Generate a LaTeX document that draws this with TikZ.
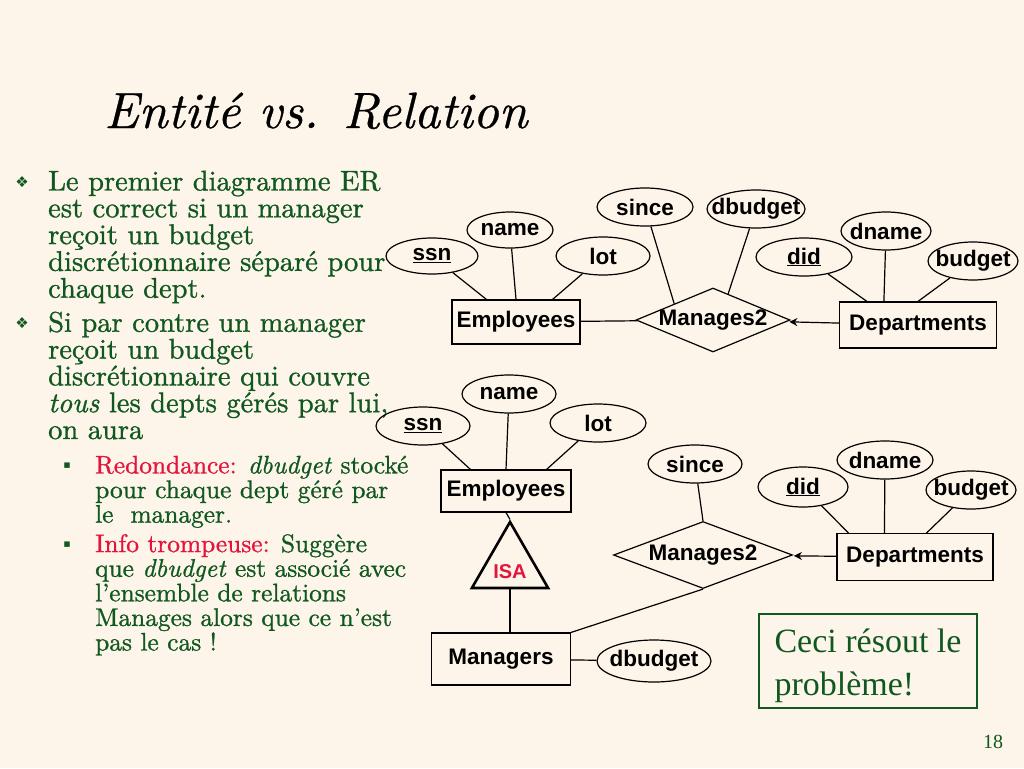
\documentclass[tikz,border=0pt]{standalone}
\usepackage{fontspec}
\usetikzlibrary{shapes.geometric,arrows.meta}
\newfontfamily\bodyfont{lmroman10}[Extension=.otf,UprightFont=*-regular,ItalicFont=*-italic,FakeBold=1]
\newfontfamily\titlefont{lmroman10}[Extension=.otf,UprightFont=*-italic,FakeBold=0.6]
\newfontfamily\erfont{Liberation Sans}
\newfontfamily\timesfont{Liberation Serif}
\newfontfamily\symfont{DejaVu Sans}
\newcommand\tightlines{\lineskiplimit=-20pt\relax}
\definecolor{slidebg}{RGB}{253,245,233}
\definecolor{textgreen}{RGB}{16,88,32}
\definecolor{alertred}{RGB}{228,20,60}
\begin{document}
\begin{tikzpicture}[x=1pt,y=-1pt,
  erlabel/.style={font=\erfont\bfseries\fontsize{22.5}{24}\selectfont},
  attr/.style 2 args={ellipse,draw,line width=1.2pt,inner sep=-14pt,erlabel,
    minimum width=#1,minimum height=#2},
  entity/.style 2 args={rectangle,draw,line width=1.2pt,inner sep=0pt,erlabel,
    minimum width=#1,minimum height=#2},
  rel/.style 2 args={diamond,draw,line width=1.2pt,inner sep=-6pt,shape aspect=2.4,erlabel,
    minimum width=#1,minimum height=#2},
  txt/.style={align=left,inner sep=0pt,anchor=north west,text=textgreen,
    font=\bodyfont\fontsize{28.5}{26.8}\selectfont\tightlines},
  subtxt/.style={txt,font=\bodyfont\fontsize{25.4}{24.6}\selectfont\tightlines},
  bul/.style={inner sep=0pt,text=textgreen,font=\symfont\fontsize{15}{15}\selectfont},
  link/.style={line width=1.2pt},
  toarrow/.style={link,-{Stealth[length=8pt,width=8pt]},shorten >=3pt}]
\useasboundingbox (0,0) rectangle (1024,768);
\fill[slidebg] (0,0) rectangle (1024,768);

% title and bullets
\node[anchor=base west,inner sep=0pt,font=\titlefont\fontsize{51}{56}\selectfont] (title) at (104,128) {Entité vs. Relation};

\node[bul] (b1) at (22,182) {❖};
\node[txt] (p1) at (48,170.5) {Le premier diagramme ER\\est correct si un manager\\reçoit un budget\\discrétionnaire séparé pour\\chaque dept.};
\node[bul] (b2) at (22,323) {❖};
\node[txt] (p2) at (48,311.5) {Si par contre un manager\\reçoit un budget\\discrétionnaire qui couvre\\\textit{tous} les depts gérés par lui,\\on aura};
\node[bul,font=\symfont\fontsize{11}{11}\selectfont] (s1) at (67,466) {▪};
\node[subtxt] (q1) at (95,455.5) {{\color{alertred}Redondance:} \textit{dbudget} stocké\\pour chaque dept géré par\\le\ \ manager.};
\node[bul,font=\symfont\fontsize{11}{11}\selectfont] (s2) at (67,545) {▪};
\node[subtxt] (q2) at (95,534) {{\color{alertred}Info trompeuse:} Suggère\\que \textit{dbudget} est associé avec\\l’ensemble de relations\\Manages alors que ce n’est\\pas le cas !};

% first diagram
\node[attr={92pt}{36pt}] (ssnA) at (432,256) {\underline{ssn}};
\node[attr={86pt}{36pt}] (nameA) at (510,230) {name};
\node[attr={94pt}{38pt}] (lotA) at (603,256) {lot};
\node[attr={96pt}{38pt}] (sinceA) at (645,207) {since};
\node[attr={98pt}{38pt}] (dbudgetA) at (756,209) {dbudget};
\node[attr={90pt}{38pt}] (dnameA) at (886,231) {dname};
\node[attr={96pt}{38pt}] (didA) at (804,257) {\underline{did}};
\node[attr={90pt}{38pt}] (budgetA) at (973,261) {budget};
\node[entity={128pt}{44pt}] (empA) at (516,322) {Employees};
\node[rel={154pt}{64pt}] (manA) at (713,320) {Manages2};
\node[entity={157pt}{46pt}] (depA) at (918,325) {Departments};

\draw[link] (ssnA) -- ([xshift=35pt]empA.north west);
\draw[link] (nameA) -- (empA.north);
\draw[link] (lotA) -- ([xshift=-28pt]empA.north east);
\draw[link] (empA) -- (manA);
\draw[link] (sinceA) -- (manA.north west);
\draw[link] (dbudgetA) -- (manA.60);
\draw[toarrow] (depA) -- (manA);
\draw[link] (didA) -- ([xshift=28pt]depA.north west);
\draw[link] (dnameA) -- ([xshift=45pt]depA.north west);
\draw[link] (budgetA) -- (depA.north);

% second diagram
\node[attr={94pt}{38pt}] (ssnB) at (423,426) {\underline{ssn}};
\node[attr={94pt}{38pt}] (nameB) at (509,394) {name};
\node[attr={96pt}{38pt}] (lotB) at (598,423) {lot};
\node[entity={130pt}{42pt}] (empB) at (506,491) {Employees};
\node[regular polygon,regular polygon sides=3,draw,line width=2.6pt,inner sep=0pt,minimum size=88pt,
  label={[text=alertred,font=\erfont\bfseries\fontsize{20}{20}\selectfont,yshift=-6pt]center:ISA}] (isa) at (510,566) {};
\node[entity={139pt}{52pt}] (mgrB) at (501,659) {Managers};
\node[attr={114pt}{42pt}] (dbudgetB) at (654,661) {dbudget};
\node[attr={94pt}{38pt}] (sinceB) at (695,464) {since};
\node[rel={179pt}{67pt}] (manB) at (703,555) {Manages2};
\node[entity={156pt}{47pt}] (depB) at (915,557) {Departments};
\node[attr={90pt}{40pt}] (didB) at (803,487) {\underline{did}};
\node[attr={96pt}{38pt}] (dnameB) at (885,460) {dname};
\node[attr={90pt}{38pt}] (budgetB) at (971,490) {budget};

\draw[link] (ssnB) -- ([xshift=30pt]empB.north west);
\draw[link] (nameB) -- (empB.north);
\draw[link] (lotB) -- ([xshift=-25pt]empB.north east);
\draw[link] (empB.south) -- (isa.north);
\draw[link] (isa.south) -- (isa.south |- mgrB.north);
\draw[link] (mgrB) -- (dbudgetB);
\draw[link] (sinceB) -- (manB.north);
\draw[toarrow] (depB) -- (manB);
\draw[link] (didB) -- ([xshift=12pt]depB.north west);
\draw[link] (dnameB) -- ([xshift=48pt]depB.north west);
\draw[link] (budgetB) -- ([xshift=-67pt]depB.north east);
\draw[link] (manB.south) -- (mgrB.north east);

% note and page number
\node[draw=textgreen,line width=1.2pt,minimum width=218pt,minimum height=94pt,align=left,
  text=textgreen,font=\timesfont\fontsize{34}{43}\selectfont] (note) at (868,661) {\rule{0pt}{34pt}Ceci résout le\\problème!};
\node[text=textgreen,inner sep=0pt,font=\timesfont\fontsize{20}{20}\selectfont] (pnum) at (993,742) {18};
\end{tikzpicture}
\end{document}
